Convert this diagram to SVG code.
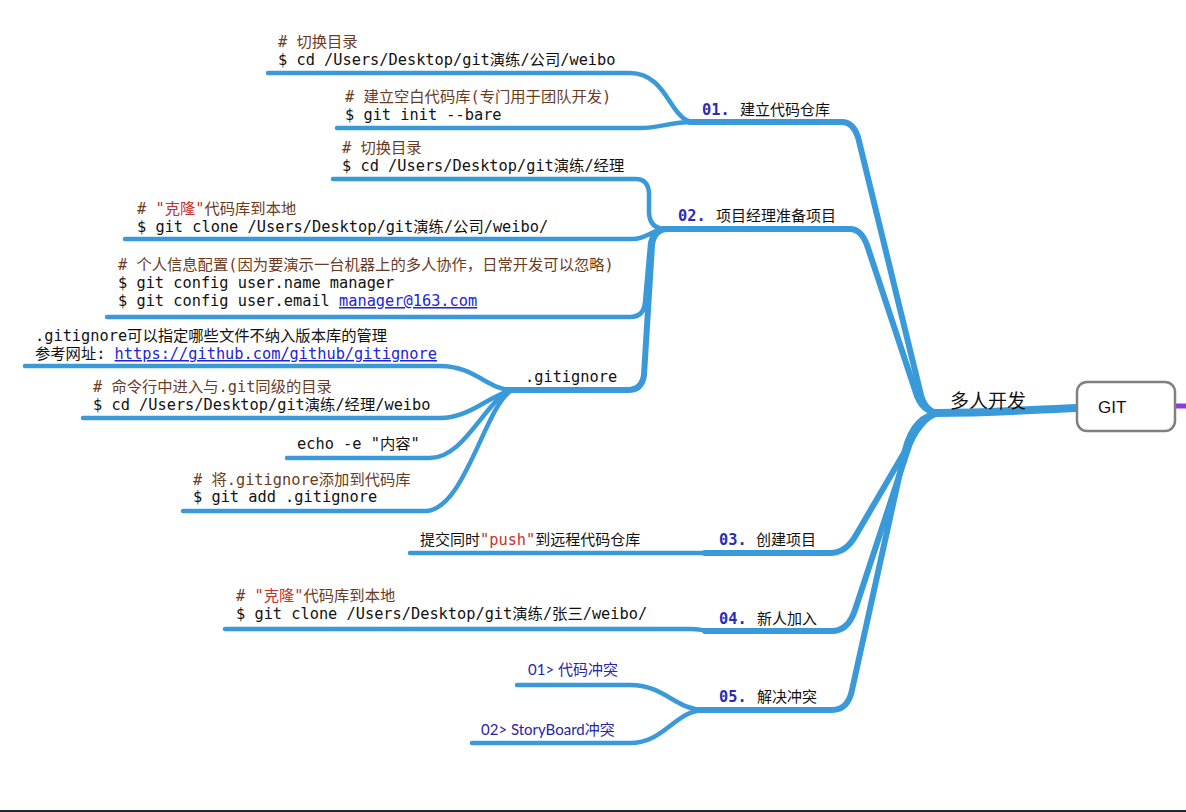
<svg xmlns="http://www.w3.org/2000/svg" width="1186" height="812" viewBox="0 0 1186 812">
<style>
.br{fill:none;stroke:#3a9ad9;stroke-linecap:round;stroke-linejoin:round}
.l0{stroke-width:8}
.l1{stroke-width:6}
.lf{stroke-width:4.5}
.mono{font-family:"DejaVu Sans Mono","Noto Sans CJK SC",monospace;font-size:15.3px}
.cm{fill:#6a3c1f}
.cmd{fill:#111111}
.red{fill:#c8302c}
.link{fill:#2323d8;text-decoration:underline}
.num{fill:#2b2bb3;font-weight:bold}
.lbl{font-family:"Noto Sans CJK SC",sans-serif;font-size:15px;fill:#111111}
.sub{font-family:"Lato","Noto Sans CJK SC",sans-serif;font-size:15px;fill:#2626a6}
</style>
<rect width="1186" height="812" fill="#ffffff"/>
<line x1="0" y1="811" x2="1186" y2="811" stroke="#1f2a38" stroke-width="2"/>

<g id="connectors">
  <!-- root to 多人开发 -->
  <path class="br l0" d="M935,413 C1000,413 1040,409 1077,408"/>
  <line x1="1175" y1="406" x2="1186" y2="406" stroke="#8a3be0" stroke-width="5"/>
  <!-- level 1 -->
  <path class="br l1" d="M690,122 H842 Q853,122 858,137 L921,395 Q926,413 940,413"/>
  <path class="br l1" d="M664,229 H850 Q861,229 867,245 L917,396 Q924,413 940,413"/>
  <path class="br l1" d="M705,553 H830 Q846,553 856,535 L911,441 Q924,415 940,413"/>
  <path class="br l1" d="M705,631 H832 Q848,631 855,610 L909,446 Q919,415 940,413"/>
  <path class="br l1" d="M700,710 H832 Q848,710 852,690 L905,450 Q914,415 940,413"/>
  <!-- 01 leaves -->
  <path class="br lf" d="M268,73 H630 C660,73 668,104 680,115 Q686,122 695,122"/>
  <path class="br lf" d="M337,128 H640 C660,128 670,122 692,122"/>
  <!-- 02 leaves -->
  <path class="br lf" d="M333,179 H636 Q648,179 649,193 V213 Q650,229 666,229"/>
  <path class="br lf" d="M125,239 H632 C648,239 652,229 666,229"/>
  <path class="br lf" d="M107,317 H630 Q644,317 645,302 L650,245 Q652,229 666,229"/>
  <path class="br l1" d="M505,390 H628 Q642,390 644,375 L652,245 Q654,229 668,229"/>
  <!-- .gitignore leaves -->
  <path class="br lf" d="M25,366 H440 C475,366 488,390 512,390"/>
  <path class="br lf" d="M83,418 H440 C470,418 490,395 512,390"/>
  <path class="br lf" d="M287,458 H430 C465,458 485,400 512,390"/>
  <path class="br lf" d="M183,511 H425 C465,511 485,405 512,390"/>
  <!-- 03 leaf -->
  <path class="br lf" d="M410,553 H708"/>
  <!-- 04 leaf -->
  <path class="br lf" d="M225,629 H690 C700,629 705,631 712,631"/>
  <!-- 05 leaves -->
  <path class="br lf" d="M517,685 H630 C665,685 675,710 705,710"/>
  <path class="br lf" d="M472,743 H630 C665,743 675,710 705,710"/>
</g>

<g id="node-git">
  <rect x="1077" y="382" width="98" height="49" rx="10" fill="#ffffff" stroke="#808080" stroke-width="2.5"/>
  <text x="1098" y="413" font-family="Liberation Sans,sans-serif" font-size="17" fill="#111111">GIT</text>
</g>

<g id="node-duoren">
  <text x="950" y="408" font-family="Noto Sans CJK SC,sans-serif" font-size="19" fill="#111111">多人开发</text>
</g>

<g id="node-01">
  <text x="702" y="115"><tspan class="mono num">01.</tspan><tspan class="lbl" x="740">建立代码仓库</tspan></text>
</g>
<g id="leaf-01-a" class="mono">
  <text x="278" y="47" class="cm">#  切换目录</text>
  <text x="278" y="65" class="cmd">$ cd /Users/Desktop/git演练/公司/weibo</text>
</g>
<g id="leaf-01-b" class="mono">
  <text x="345" y="102" class="cm"># 建立空白代码库(专门用于团队开发)</text>
  <text x="345" y="120" class="cmd">$ git init --bare</text>
</g>

<g id="node-02">
  <text x="678" y="221"><tspan class="mono num">02.</tspan><tspan class="lbl" x="716">项目经理准备项目</tspan></text>
</g>
<g id="leaf-02-a" class="mono">
  <text x="342" y="153" class="cm">#  切换目录</text>
  <text x="342" y="171" class="cmd">$ cd /Users/Desktop/git演练/经理</text>
</g>
<g id="leaf-02-b" class="mono">
  <text x="137" y="214" class="cm"># <tspan class="red">"克隆"</tspan>代码库到本地</text>
  <text x="137" y="232" class="cmd">$ git clone /Users/Desktop/git演练/公司/weibo/</text>
</g>
<g id="leaf-02-c" class="mono">
  <text x="118" y="270" class="cm"># 个人信息配置(因为要演示一台机器上的多人协作，日常开发可以忽略)</text>
  <text x="118" y="288" class="cmd">$ git config user.name manager</text>
  <text x="118" y="306" class="cmd">$ git config user.email <tspan class="link">manager@163.com</tspan></text>
</g>

<g id="node-gitignore">
  <text x="525" y="382" class="mono cmd">.gitignore</text>
</g>
<g id="leaf-gi-a" class="mono">
  <text x="35" y="341" class="cmd">.gitignore可以指定哪些文件不纳入版本库的管理</text>
  <text x="35" y="359" class="cmd">参考网址: <tspan class="link">https://github.com/github/gitignore</tspan></text>
</g>
<g id="leaf-gi-b" class="mono">
  <text x="93" y="392" class="cm"># 命令行中进入与.git同级的目录</text>
  <text x="93" y="410" class="cmd">$ cd /Users/Desktop/git演练/经理/weibo</text>
</g>
<g id="leaf-gi-c" class="mono">
  <text x="297" y="449" class="cmd">echo -e "内容"</text>
</g>
<g id="leaf-gi-d" class="mono">
  <text x="193" y="485" class="cm"># 将.gitignore添加到代码库</text>
  <text x="193" y="502" class="cmd">$ git add .gitignore</text>
</g>

<g id="node-03">
  <text x="719" y="545"><tspan class="mono num">03.</tspan><tspan class="lbl" x="756">创建项目</tspan></text>
</g>
<g id="leaf-03-a">
  <text x="420" y="545"><tspan class="lbl">提交同时</tspan><tspan class="mono red">"push"</tspan><tspan class="lbl">到远程代码仓库</tspan></text>
</g>

<g id="node-04">
  <text x="719" y="624"><tspan class="mono num">04.</tspan><tspan class="lbl" x="757">新人加入</tspan></text>
</g>
<g id="leaf-04-a" class="mono">
  <text x="236" y="601" class="cm"># <tspan class="red">"克隆"</tspan>代码库到本地</text>
  <text x="236" y="619" class="cmd">$ git clone /Users/Desktop/git演练/张三/weibo/</text>
</g>

<g id="node-05">
  <text x="719" y="702"><tspan class="mono num">05.</tspan><tspan class="lbl" x="757">解决冲突</tspan></text>
</g>
<g id="leaf-05-a">
  <text x="528" y="675" class="sub">01&gt; 代码冲突</text>
</g>
<g id="leaf-05-b">
  <text x="481" y="735" class="sub">02&gt; StoryBoard冲突</text>
</g>
</svg>
